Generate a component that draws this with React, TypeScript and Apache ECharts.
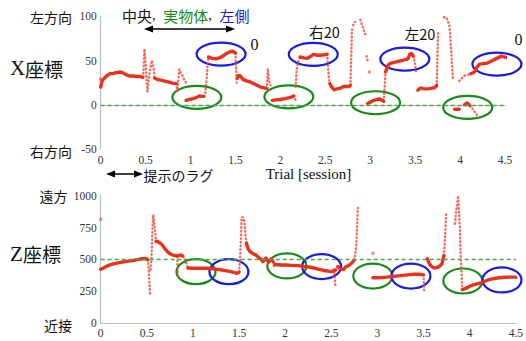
import React, { useEffect, useRef } from 'react';
import * as echarts from 'echarts';

// ---- X座標 (top) ----
const topSolid: number[][][] = [
  [[0,20],[0.015,27],[0.04,30],[0.07,33],[0.1,35],[0.14,35.5],[0.18,36.5],[0.22,37],[0.25,36],[0.28,34],[0.32,32.5],[0.36,32.5],[0.4,32],[0.44,32],[0.47,31]],
  [[0.6,30],[0.64,28.5],[0.68,27.5],[0.72,26.5],[0.76,25.5],[0.8,24.5],[0.84,24]],
  [[0.95,5],[0.99,6],[1.03,7],[1.07,8.5],[1.1,10],[1.13,9.5],[1.15,9.5]],
  [[1.2,54],[1.24,52.5],[1.28,52],[1.32,53],[1.36,55],[1.4,58],[1.44,60],[1.47,60.5],[1.5,58.5]],
  [[1.52,30],[1.535,33],[1.555,32.5],[1.58,29],[1.62,27],[1.66,26],[1.7,24],[1.74,22],[1.78,20],[1.82,19],[1.85,18.5]],
  [[1.91,5],[1.95,5.5],[2.0,6],[2.05,7],[2.1,8],[2.13,9],[2.15,10]],
  [[2.22,54],[2.26,53],[2.3,52.5],[2.34,55],[2.37,57],[2.41,56],[2.45,56],[2.49,56.5],[2.52,57]],
  [[2.55,24],[2.57,20],[2.6,17],[2.63,18],[2.66,18.5],[2.69,20],[2.72,21],[2.76,20.5],[2.78,22]],
  [[2.97,1.5],[3.0,3],[3.04,5],[3.08,6],[3.11,6.5],[3.13,5],[3.15,4]],
  [[3.17,37],[3.2,45],[3.23,47],[3.27,48],[3.31,49],[3.35,50],[3.39,51],[3.42,52],[3.44,57],[3.46,58],[3.48,55]],
  [[3.53,16.6],[3.56,19],[3.6,18],[3.64,18],[3.68,18.5],[3.72,19.5],[3.74,22]],
  [[3.94,-5],[3.99,-5]],
  [[4.05,0],[4.08,2],[4.11,-1]],
  [[4.12,35],[4.16,37],[4.19,43],[4.22,46],[4.26,46.5],[4.3,47],[4.34,49],[4.38,51],[4.42,53],[4.46,55],[4.49,54],[4.51,53.5]],
];
const topDotted: number[][][] = [
  [[0.47,31],[0.48,45],[0.485,63],[0.49,62],[0.5,45],[0.51,30],[0.52,15],[0.53,25],[0.55,40],[0.57,50],[0.59,40],[0.6,30]],
  [[0.84,24],[0.855,15],[0.865,30],[0.875,40],[0.89,37],[0.91,33],[0.93,28],[0.95,25]],
  [[1.15,9.5],[1.165,13],[1.18,30],[1.19,45],[1.2,54]],
  [[1.5,58.5],[1.505,45],[1.51,35],[1.515,25]],
  [[1.85,18.5],[1.855,30],[1.86,41],[1.87,30],[1.88,24],[1.89,22]],
  [[2.15,10],[2.17,5]],
  [[2.17,20],[2.18,39],[2.2,50],[2.22,54]],
  [[2.52,57],[2.53,43],[2.54,30],[2.55,24]],
  [[2.78,22],[2.785,40],[2.79,60],[2.795,80],[2.8,86]],
  [[2.81,90],[2.83,94],[2.84,92]],
  [[2.89,96],[2.91,90],[2.93,84],[2.95,78]],
  [[2.96,55],[2.97,50]],
  [[3.15,4],[3.16,20],[3.17,37]],
  [[3.48,55],[3.5,45],[3.51,37]],
  [[3.74,22],[3.745,40],[3.75,62],[3.755,81]],
  [[3.82,99],[3.84,99],[3.86,96],[3.88,90],[3.89,80],[3.9,62],[3.91,45],[3.92,30]],
  [[3.99,27],[4.02,30],[4.05,33],[4.1,34]],
  [[4.11,-1],[4.15,-6],[4.19,-12]],
];
const topDots: number[][] = [[0,29],[2.99,37]];
const topGreen: number[][] = [[1.07,8.4],[2.094,9],[3.06,2.3],[4.085,-3]];
const topBlue: number[][] = [[1.34,57.3],[2.366,57],[3.385,51.7],[4.41,46]];

// ---- Z座標 (bottom) ----
const botSolid: number[][][] = [
  [[0,422],[0.03,432],[0.06,445],[0.1,456],[0.15,466],[0.2,474],[0.25,480],[0.3,486],[0.35,491],[0.4,498],[0.45,505],[0.49,507],[0.51,497]],
  [[0.6,640],[0.62,640],[0.64,630],[0.67,610],[0.7,580],[0.73,555],[0.76,540],[0.8,530],[0.84,527],[0.87,535],[0.89,525]],
  [[0.945,432],[1.0,430],[1.05,430],[1.1,430],[1.15,430],[1.2,428],[1.25,422],[1.3,418],[1.35,412],[1.4,405],[1.45,395],[1.48,390],[1.5,400]],
  [[1.58,626],[1.6,580],[1.62,560],[1.65,545],[1.68,535],[1.71,516],[1.74,500],[1.76,482],[1.79,510],[1.82,478],[1.85,505],[1.87,480]],
  [[1.89,460],[1.95,456],[2.0,456],[2.07,453],[2.14,451],[2.2,445],[2.26,440],[2.32,430],[2.38,420],[2.44,410],[2.5,404],[2.55,417]],
  [[2.57,443],[2.6,425],[2.63,420],[2.66,443],[2.69,452],[2.72,470],[2.75,495]],
  [[2.95,356],[3.0,356],[3.05,357],[3.1,360],[3.15,364],[3.2,368],[3.25,372],[3.3,376],[3.35,380],[3.4,383],[3.45,383],[3.5,378]],
  [[3.54,505],[3.56,470],[3.58,450],[3.61,432],[3.64,435],[3.67,443],[3.7,465],[3.72,530]],
  [[3.92,262],[3.95,270],[3.98,280],[4.01,292],[4.04,300],[4.07,305],[4.1,312],[4.13,318],[4.17,330],[4.22,342],[4.27,350],[4.32,355],[4.38,359],[4.43,360],[4.48,360],[4.5,358]],
];
const botDotted: number[][][] = [
  [[0.51,497],[0.52,430],[0.525,350],[0.53,295],[0.535,220]],
  [[0.54,420],[0.55,500],[0.555,600],[0.56,720],[0.565,800],[0.57,849],[0.575,845],[0.58,800],[0.59,720],[0.6,650]],
  [[0.83,520],[0.835,400],[0.84,350]],
  [[0.89,525],[0.91,500],[0.93,460],[0.945,435]],
  [[1.5,400],[1.51,500],[1.52,650],[1.527,830],[1.54,830],[1.55,820],[1.56,780],[1.57,680],[1.58,626]],
  [[1.87,480],[1.88,440]],
  [[2.53,420],[2.54,340],[2.545,280]],
  [[2.75,495],[2.77,600],[2.78,760],[2.785,870],[2.79,920]],
  [[3.5,378],[3.505,300],[3.506,235]],
  [[3.72,530],[3.73,640],[3.74,771],[3.745,875]],
  [[3.84,780],[3.855,890],[3.865,930],[3.875,1000],[3.88,940],[3.89,800],[3.895,720],[3.9,574],[3.91,420],[3.92,265]],
];
const botDots: number[][] = [[0,815],[2.95,548]];
const botGreen: number[][] = [[1.033,403],[2.018,448],[2.95,369],[3.926,330]];
const botBlue: number[][] = [[1.39,403],[2.395,443],[3.363,369],[4.35,338]];

const RED = '#e8321c';
const RED_LIGHT = 'rgba(240,80,60,0.85)';
const GREEN = '#178a17';
const BLUE = '#1a1ae0';
const SERIF = '"Liberation Serif", "Times New Roman", serif';
const CJK = '"Noto Sans CJK JP", sans-serif';

export default function App() {
  const ref = useRef<HTMLDivElement>(null);
  useEffect(() => {
    document.body.style.margin = '0';
    const chart = echarts.init(ref.current!, null, { renderer: 'svg' });
    const series: any[] = [];
    const addGrid = (gi: number, solid: number[][][], dotted: number[][][], dots: number[][], green: number[][], blue: number[][], refY: number, rx: number, ry: number) => {
      series.push({
        type: 'line', xAxisIndex: gi, yAxisIndex: gi, data: [], symbol: 'none',
        markLine: { silent: true, symbol: 'none', label: { show: false },
          lineStyle: { color: '#4aa84a', type: [4, 3], width: 1.3 }, data: [{ yAxis: refY }] },
      });
      dotted.forEach((d) => series.push({
        type: 'line', xAxisIndex: gi, yAxisIndex: gi, data: d, symbol: 'none', clip: false,
        lineStyle: { color: RED_LIGHT, width: 2.4, type: [0.5, 3.2], cap: 'round' },
      }));
      solid.forEach((d) => series.push({
        type: 'line', xAxisIndex: gi, yAxisIndex: gi, data: d, symbol: 'none', clip: false,
        lineStyle: { color: RED, width: 3.4, cap: 'round', join: 'round' },
      }));
      series.push({ type: 'scatter', xAxisIndex: gi, yAxisIndex: gi, data: dots, symbolSize: 3.5,
        itemStyle: { color: RED_LIGHT } });
      const ell = (data: number[][], color: string) => ({
        type: 'custom', xAxisIndex: gi, yAxisIndex: gi, data, clip: false,
        renderItem: (_p: any, api: any) => {
          const c = api.coord([api.value(0), api.value(1)]);
          return { type: 'ellipse', shape: { cx: c[0], cy: c[1], rx, ry },
            style: { fill: 'none', stroke: color, lineWidth: 2.2 } };
        },
      });
      series.push(ell(green, GREEN));
      series.push(ell(blue, BLUE));
    };
    addGrid(0, topSolid, topDotted, topDots, topGreen, topBlue, 0, 24.5, 11.5);
    addGrid(1, botSolid, botDotted, botDots, botGreen, botBlue, 500, 19.5, 12.5);

    const axisLabel = { fontFamily: SERIF, fontSize: 11.5, color: '#333', formatter: (v: number) => String(v) };
    const xAxisBase = {
      type: 'value', min: 0, max: 4.5, interval: 0.5,
      axisLine: { show: true, lineStyle: { color: '#bdbdbd', width: 1.2 } },
      axisTick: { show: false }, splitLine: { show: false },
    };
    const yAxisBase = {
      type: 'value',
      axisLine: { show: true, lineStyle: { color: '#bdbdbd', width: 1.2 } },
      axisTick: { show: false }, splitLine: { show: false },
    };
    const txt = (text: string, x: number, y: number, fontSize: number, font = CJK, align = 'center') => ({
      type: 'text', x, y,
      style: { text, fontSize, fontFamily: font, fill: '#111', align, verticalAlign: 'middle' },
    });
    const coordTitle = (letter: string, x: number, y: number) => ({
      type: 'text', x, y,
      style: {
        text: `{s|${letter}}{c|座標}`, align: 'center', verticalAlign: 'middle',
        rich: {
          s: { fontSize: 21, fontFamily: SERIF, fill: '#111' },
          c: { fontSize: 19, fontFamily: CJK, fill: '#111' },
        },
      },
    });
    const arrow = (x1: number, x2: number, y: number) => ({
      type: 'group', children: [
        { type: 'line', shape: { x1: x1 + 7, y1: y, x2: x2 - 7, y2: y }, style: { stroke: '#000', lineWidth: 1.5 } },
        { type: 'polygon', shape: { points: [[x1, y], [x1 + 9, y - 3.5], [x1 + 9, y + 3.5]] }, style: { fill: '#000' } },
        { type: 'polygon', shape: { points: [[x2, y], [x2 - 9, y - 3.5], [x2 - 9, y + 3.5]] }, style: { fill: '#000' } },
      ],
    });

    chart.setOption({
      animation: false,
      grid: [
        { left: 100.7, right: 21, top: 16.3, height: 132.7 },
        { left: 100.7, right: 7, top: 195.7, height: 127.3 },
      ],
      xAxis: [
        { ...xAxisBase, gridIndex: 0, axisLabel: { ...axisLabel, margin: 5 } },
        { ...xAxisBase, gridIndex: 1, axisLabel: { ...axisLabel, margin: 4 } },
      ],
      yAxis: [
        { ...yAxisBase, gridIndex: 0, min: -50, max: 100, interval: 50, axisLabel: { ...axisLabel, margin: 4 } },
        { ...yAxisBase, gridIndex: 1, min: 0, max: 1000, interval: 250, axisLabel: { ...axisLabel, margin: 4 } },
      ],
      series,
      graphic: [
        txt('左方向', 51, 16.5, 14),
        txt('右方向', 51, 151, 14),
        coordTitle('X', 36.5, 68),
        txt('遠方', 53.5, 195.5, 14),
        txt('近接', 58, 325, 14),
        coordTitle('Z', 35.5, 253.5),
        {
          type: 'text', x: 122, y: 15,
          style: {
            text: '{k|中央}{p|,  }{g|実物体}{p|,  }{b|左側}', verticalAlign: 'middle', align: 'left',
            rich: {
              k: { fontSize: 15, fontFamily: CJK, fill: '#111' },
              p: { fontSize: 15, fontFamily: SERIF, fill: '#111' },
              g: { fontSize: 15, fontFamily: CJK, fill: GREEN },
              b: { fontSize: 15, fontFamily: CJK, fill: BLUE },
            },
          },
        },
        arrow(144, 235, 29),
        arrow(106, 143, 174),
        txt('提示のラグ', 143.5, 174.5, 14, CJK, 'left'),
        txt('Trial [session]', 308.5, 174, 15, SERIF),
        txt('0', 254.5, 44.5, 16, SERIF),
        txt('右20', 324.5, 31, 14.5),
        txt('左20', 420, 33.5, 14.5),
        txt('0', 518.5, 39.5, 16, SERIF),
      ],
    });
    return () => chart.dispose();
  }, []);
  return <div ref={ref} style={{ width: 526, height: 341, position: 'absolute', left: 0, top: 0 }} />;
}
